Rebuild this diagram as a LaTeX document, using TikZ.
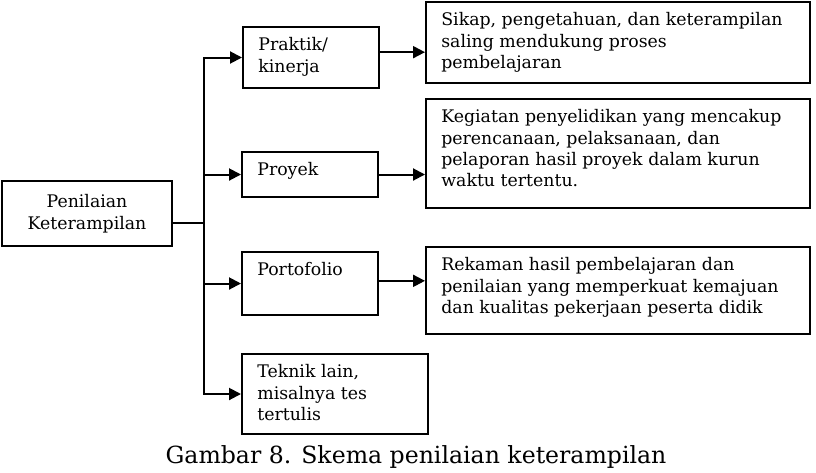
\documentclass[tikz,border=0pt]{standalone}
\usepackage{fontspec}
\setmainfont{DejaVu Serif}
\usetikzlibrary{positioning, arrows.meta}

% text block with fixed height, set at the top of its box
\newcommand{\toptext}[3]{\parbox[t][#1][t]{#2}{\raggedright #3}}

\begin{document}
\begin{tikzpicture}[
    x=0.75pt, y=-0.75pt,
    source/.style={rectangle, draw=black, line width=1.5pt, minimum width=127.5pt, minimum height=48.75pt, align=center, inner sep=0pt, font=\fontsize{13}{16.5}\selectfont},
    method/.style={rectangle, draw=black, line width=1.5pt, anchor=north west, inner xsep=11.5pt, inner ysep=8pt, font=\fontsize{13}{16}\selectfont},
    line/.style={draw, line width=1.5pt, line cap=rect},
    link/.style={draw, line width=1.5pt, -{Triangle[length=9pt, width=9pt]}}
]
\useasboundingbox (0,0) rectangle (816,472);

% Source
\node[source] (Penilaian) at (87,213.5) {Penilaian\\Keterampilan};

% Methods
\node[method] (Praktik) at (242,26) {\toptext{29.75pt}{79pt}{Praktik/\\kinerja}};
\node[method] (Proyek) at (241,151) {\toptext{17.75pt}{79pt}{Proyek}};
\node[method] (Portofolio) at (241,251) {\toptext{31.25pt}{79pt}{Portofolio}};
\node[method] (Teknik) at (241,353) {\toptext{44pt}{116.5pt}{Teknik lain,\\misalnya tes\\tertulis}};

% Descriptions
\node[method] (Sikap) at (425,1) {\toptext{44.75pt}{265pt}{Sikap, pengetahuan, dan keterampilan\\saling mendukung proses\\pembelajaran}};
\node[method] (Kegiatan) at (425,98) {\toptext{65.75pt}{265pt}{Kegiatan penyelidikan yang mencakup\\perencanaan, pelaksanaan, dan\\pelaporan hasil proyek dalam kurun\\waktu tertentu.}};
\node[method] (Rekaman) at (425,246) {\toptext{49.25pt}{265pt}{Rekaman hasil pembelajaran dan\\penilaian yang memperkuat kemajuan\\dan kualitas pekerjaan peserta didik}};

% Caption
\node[anchor=base, font=\fontsize{17.7}{21}\selectfont] (Caption) at (416,463) {Gambar 8. Skema penilaian keterampilan};

% Connections
\coordinate (Bus) at (204,223);
\draw[line] (Penilaian.east |- Bus) -- (Bus);
\draw[line] (Praktik.west -| Bus) -- (Teknik.west -| Bus);
\draw[link] (Praktik.west -| Bus) -- (Praktik.west);
\draw[link] (Proyek.west -| Bus) -- (Proyek.west);
\draw[link] (Portofolio.west -| Bus) -- (Portofolio.west);
\draw[link] (Teknik.west -| Bus) -- (Teknik.west);
\draw[link] ([yshift=4pt]Praktik.east) -- ([yshift=4pt]Sikap.west |- Praktik.east);
\draw[link] (Proyek.east) -- (Kegiatan.west |- Proyek.east);
\draw[link] ([yshift=2pt]Portofolio.east) -- ([yshift=2pt]Rekaman.west |- Portofolio.east);

\end{tikzpicture}
\end{document}
